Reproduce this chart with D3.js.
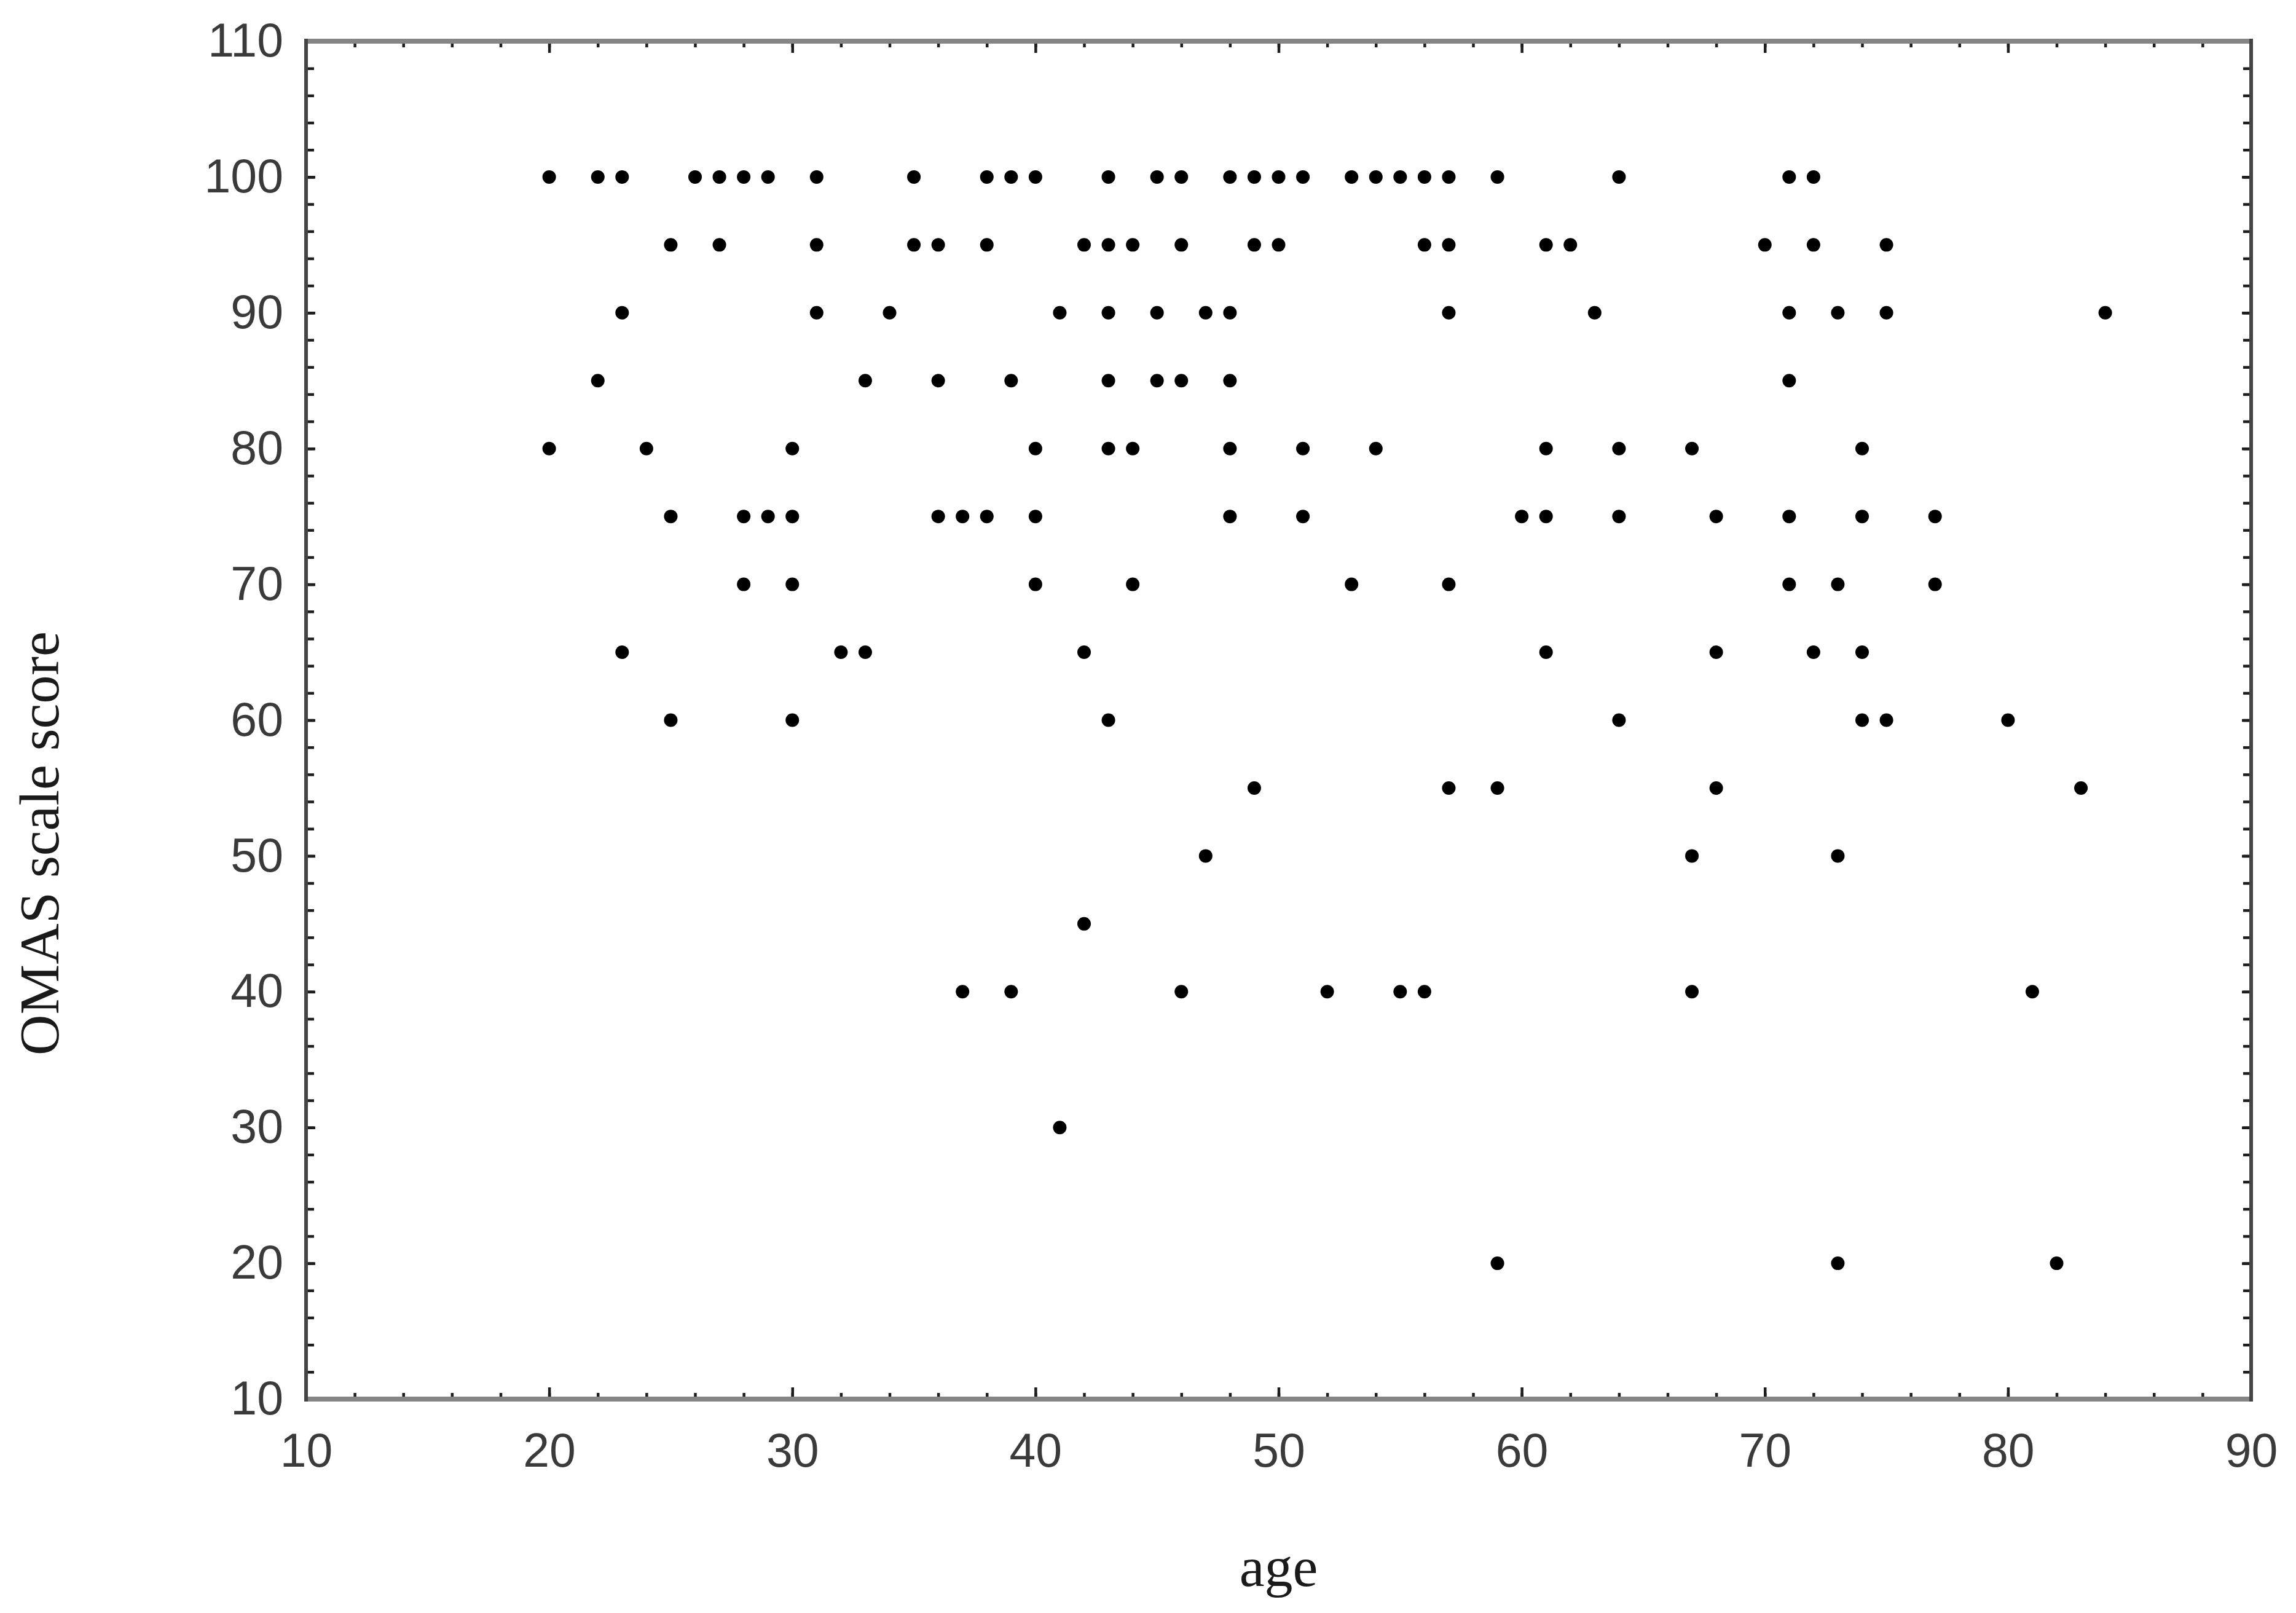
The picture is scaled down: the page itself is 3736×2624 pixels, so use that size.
<!DOCTYPE html>
<html lang="en">
<head>
  <meta charset="UTF-8">
  <script src="https://d3js.org/d3.v7.min.js"></script>
  <title>OMAS scale score by age</title>
  <style>
    body {
      margin: 0;
      background: #fff;
      overflow: hidden;
    }
    .tick text {
      font-family: "Liberation Sans", Arial, sans-serif;
      font-size: 77px;
      fill: #3a3a3a;
    }
    .axis-title {
      font-family: "Liberation Serif", "Times New Roman", serif;
      font-size: 92px;
      fill: #1a1a1a;
    }
  </style>
</head>
<body>
<script>
  // ages of the respondents, grouped by their OMAS scale score
  const ages100 = [20, 22, 23, 26, 27, 28, 29, 31, 35, 38, 39, 40, 43, 45, 46, 48, 49, 50, 51, 53, 54, 55, 56, 57, 59, 64, 71, 72];
  const ages95 = [25, 27, 31, 35, 36, 38, 42, 43, 44, 46, 49, 50, 56, 57, 61, 62, 70, 72, 75];
  const ages90 = [23, 31, 34, 41, 43, 45, 47, 48, 57, 63, 71, 73, 75, 84];
  const ages85 = [22, 33, 36, 39, 43, 45, 46, 48, 71];
  const ages80 = [20, 24, 30, 40, 43, 44, 48, 51, 54, 61, 64, 67, 74];
  const ages75 = [25, 28, 29, 30, 36, 37, 38, 40, 48, 51, 60, 61, 64, 68, 71, 74, 77];
  const ages70 = [28, 30, 40, 44, 53, 57, 71, 73, 77];
  const ages65 = [23, 32, 33, 42, 61, 68, 72, 74];
  const ages60 = [25, 30, 43, 64, 74, 75, 80];
  const ages55 = [49, 57, 59, 68, 83];
  const ages50 = [47, 67, 73];
  const ages45 = [42];
  const ages40 = [37, 39, 46, 52, 55, 56, 67, 81];
  const ages30 = [41];
  const ages20 = [59, 73, 82];

  const scoreRows = [
    [100, ages100], [95, ages95], [90, ages90], [85, ages85], [80, ages80],
    [75, ages75], [70, ages70], [65, ages65], [60, ages60], [55, ages55],
    [50, ages50], [45, ages45], [40, ages40], [30, ages30], [20, ages20]
  ];

  // axis ticks
  const xTicks = [10, 20, 30, 40, 50, 60, 70, 80, 90];
  const yTicks = [10, 20, 30, 40, 50, 60, 70, 80, 90, 100, 110];

  const points = scoreRows.flatMap(([score, ages]) => ages.map(a => ({ age: a, score: score })));

  const width = 3736;
  const height = 2624;
  const margin = { top: 67, right: 73, bottom: 348, left: 498 };

  const svg = d3.select("body").append("svg")
    .attr("width", width)
    .attr("height", height);

  const x = d3.scaleLinear().domain([10, 90]).range([margin.left, width - margin.right]);
  const y = d3.scaleLinear().domain([10, 110]).range([height - margin.bottom, margin.top]);

  const [x0, x1] = x.range();
  const [y0, y1] = [y(110), y(10)];

  // tick helpers: all ticks point into the plot box
  function tickAxis(axis, pos, values, size, labels, pad) {
    const g = svg.append("g").attr("transform", pos)
      .call(axis.tickValues(values).tickSize(-size).tickPadding(pad || 0)
        .tickFormat(labels ? d3.format("d") : ""));
    g.select(".domain").remove();
    g.selectAll(".tick line").attr("stroke", "#1e1e1e").attr("stroke-width", 4.5);
    return g;
  }

  const xMinor = d3.range(10, 91, 2);
  const yMinor = d3.range(10, 111, 2);

  tickAxis(d3.axisBottom(x), `translate(0,${y1})`, xMinor, 10, false);
  tickAxis(d3.axisTop(x), `translate(0,${y0})`, xMinor, 10, false);
  tickAxis(d3.axisLeft(y), `translate(${x0},0)`, yMinor, 13, false);
  tickAxis(d3.axisRight(y), `translate(${x1},0)`, yMinor, 13, false);

  tickAxis(d3.axisBottom(x), `translate(0,${y1})`, xTicks, 19, true, 55);
  tickAxis(d3.axisTop(x), `translate(0,${y0})`, xTicks, 19, false);
  tickAxis(d3.axisLeft(y), `translate(${x0},0)`, yTicks, 15, true, 37);
  tickAxis(d3.axisRight(y), `translate(${x1},0)`, yTicks, 15, false);

  // frame
  const frame = svg.append("g");
  frame.append("line").attr("x1", x0).attr("x2", x1).attr("y1", y0).attr("y2", y0)
    .attr("stroke", "#858585").attr("stroke-width", 8);
  frame.append("line").attr("x1", x0).attr("x2", x1).attr("y1", y1).attr("y2", y1)
    .attr("stroke", "#858585").attr("stroke-width", 8);
  frame.append("line").attr("x1", x0).attr("x2", x0).attr("y1", y0 - 4).attr("y2", y1 + 4)
    .attr("stroke", "#444").attr("stroke-width", 6);
  frame.append("line").attr("x1", x1).attr("x2", x1).attr("y1", y0 - 4).attr("y2", y1 + 4)
    .attr("stroke", "#444").attr("stroke-width", 6);

  // points
  svg.append("g")
    .selectAll("circle")
    .data(points)
    .enter().append("circle")
    .attr("cx", d => x(d.age))
    .attr("cy", d => y(d.score))
    .attr("r", 11)
    .attr("fill", "#000");

  // axis titles
  svg.append("text")
    .attr("class", "axis-title")
    .attr("x", (x0 + x1) / 2)
    .attr("y", 2580)
    .attr("text-anchor", "middle")
    .text("age");

  svg.append("text")
    .attr("class", "axis-title")
    .attr("transform", `translate(95,1372) rotate(-90)`)
    .attr("text-anchor", "middle")
    .text("OMAS scale score");
</script>
</body>
</html>
